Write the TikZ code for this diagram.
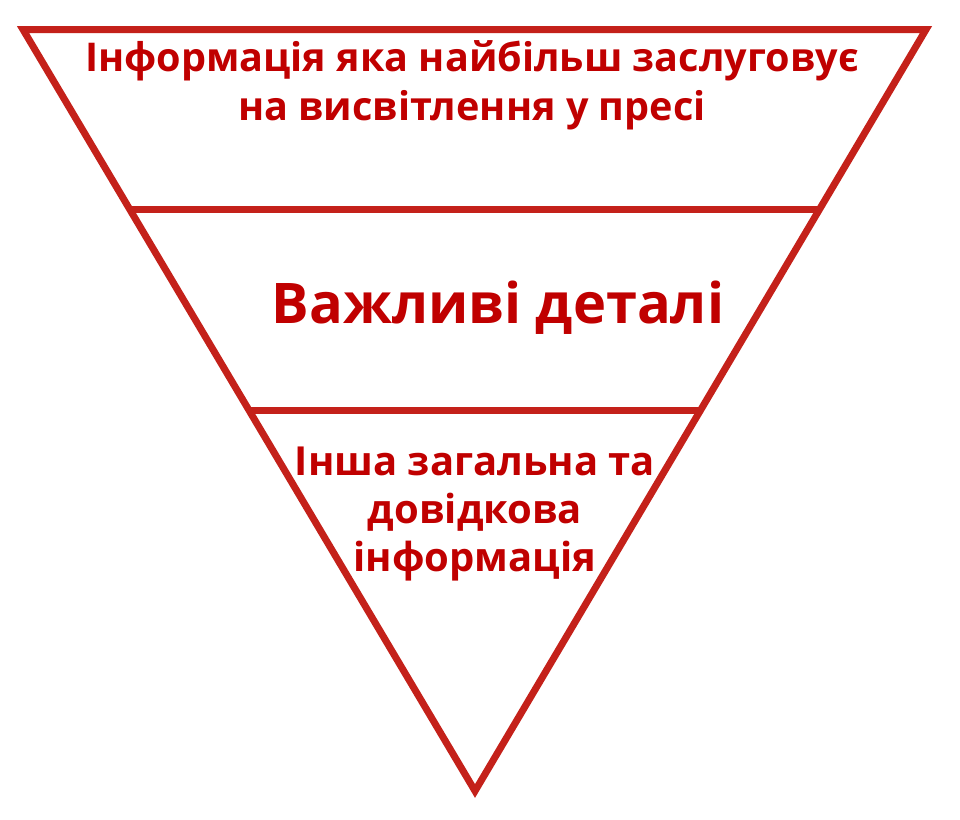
\documentclass[tikz,border=0pt]{standalone}
\usepackage{fontspec}
\setmainfont{Open Sans}
\usetikzlibrary{positioning,calc}
\definecolor{pyrline}{HTML}{C4211A}
\definecolor{pyrtext}{HTML}{C00000}

\begin{document}
\begin{tikzpicture}[x=1pt,y=-1pt]
            \tikzstyle{edgeline}=[draw=pyrline, line width=7pt, line join=miter]
            \tikzstyle{lvl}=[text=pyrtext, font=\bfseries, align=center, inner sep=0pt]
            \useasboundingbox (0,0) rectangle (960,819);
            \coordinate (tl) at (23,29.5);
            \coordinate (tr) at (926,29.5);
            \coordinate (apex) at (475,791);
            \coordinate (l1) at ($(tl)!0.237!(apex)$);
            \coordinate (r1) at ($(tr)!0.237!(apex)$);
            \coordinate (l2) at ($(tl)!0.5!(apex)$);
            \coordinate (r2) at ($(tr)!0.5!(apex)$);
            \path[edgeline] (tl) -- (tr) -- (apex) -- cycle;
            \path[edgeline] (l1) -- (r1);
            \path[edgeline] (l2) -- (r2);
            \node[lvl, font=\bfseries\fontsize{39.6}{49}\selectfont] (top) at (472,85)
                {Інформація яка найбільш заслуговує\\на висвітлення у пресі};
            \node[lvl, font=\bfseries\fontsize{56}{64}\selectfont, anchor=base] (mid) at (498,323)
                {Важливі деталі};
            \node[lvl, font=\bfseries\fontsize{40}{48}\selectfont] (low) at (475,514)
                {Інша загальна та\\довідкова\\інформація};
        \end{tikzpicture}
\end{document}
